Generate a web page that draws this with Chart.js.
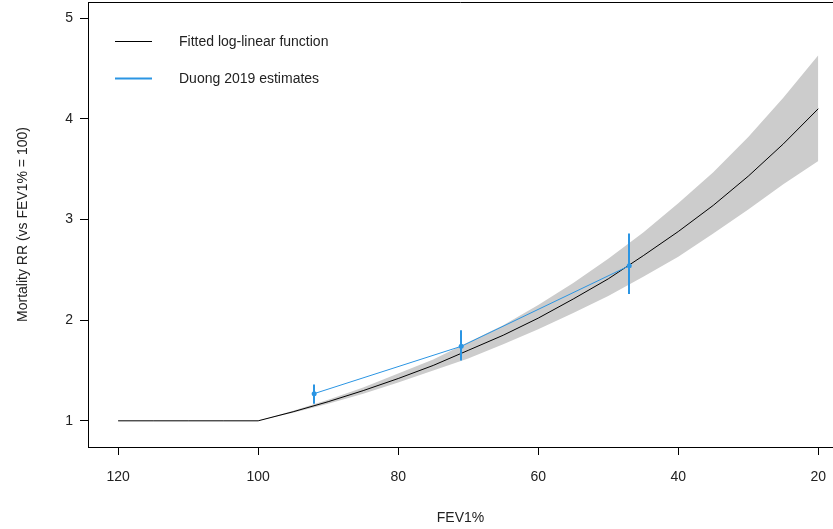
<!DOCTYPE html>
<html>
<head>
<meta charset="utf-8">
<script src="https://cdn.jsdelivr.net/npm/chart.js@4/dist/chart.umd.min.js"></script>
<style>
html,body{margin:0;padding:0;background:#fff;overflow:hidden;}
#wrap{width:833px;height:529px;}
</style>
</head>
<body>
<div id="wrap"><canvas id="c" width="833" height="529"></canvas></div>
<script>
// ---- data ----
const fitX   = [120, 115, 110, 105, 100, 95, 90, 85, 80, 75, 70, 65, 60, 55, 50, 45, 40, 35, 30, 25, 20];
const fitted = [1.00, 1.00, 1.00, 1.00, 1.00, 1.09, 1.19, 1.30, 1.42, 1.55, 1.70, 1.85, 2.02, 2.21, 2.41, 2.64, 2.88, 3.14, 3.43, 3.75, 4.10];
const bandX  = [100, 95, 90, 85, 80, 75, 70, 65, 60, 55, 50, 45, 40, 35, 30, 25, 20];
const upper  = [1.00, 1.10, 1.21, 1.33, 1.47, 1.61, 1.78, 1.95, 2.15, 2.37, 2.61, 2.87, 3.16, 3.47, 3.82, 4.21, 4.63];
const lower  = [1.00, 1.08, 1.17, 1.27, 1.38, 1.50, 1.62, 1.76, 1.91, 2.07, 2.24, 2.43, 2.63, 2.86, 3.10, 3.35, 3.58];
const duongX  = [92, 71, 47];
const duongRR = [1.27, 1.74, 2.54];
const duongLo = [1.17, 1.60, 2.26];
const duongHi = [1.36, 1.90, 2.86];
const xTicks = [120, 100, 80, 60, 40, 20];
const yTicks = [1, 2, 3, 4, 5];
const legendLabels = ['Fitted log-linear function', 'Duong 2019 estimates'];

const BLUE = '#2b95e3';
const FONT = 'Liberation Sans, Arial, Helvetica, sans-serif';
const pts = (xs, ys) => xs.map((x, i) => ({x: x, y: ys[i]}));

const errorBars = {
  id: 'errorBars',
  afterDatasetsDraw(chart) {
    const xs = chart.scales.x, ys = chart.scales.y, ctx = chart.ctx;
    ctx.save();
    ctx.strokeStyle = BLUE;
    ctx.lineWidth = 2;
    duongX.forEach((x, i) => {
      const px = Math.round(xs.getPixelForValue(x));
      ctx.beginPath();
      ctx.moveTo(px, ys.getPixelForValue(duongLo[i]));
      ctx.lineTo(px, ys.getPixelForValue(duongHi[i]));
      ctx.stroke();
    });
    ctx.restore();
  }
};

const frameAndLegend = {
  id: 'frameAndLegend',
  afterDraw(chart) {
    const ctx = chart.ctx, a = chart.chartArea;
    ctx.save();
    ctx.strokeStyle = '#000';
    ctx.lineWidth = 1;
    ctx.beginPath();
    ctx.moveTo(a.left, a.top + 0.5);
    ctx.lineTo(a.right, a.top + 0.5);
    ctx.stroke();
    // legend
    const rows = [{y: 41, c: '#000'}, {y: 78, c: BLUE}];
    ctx.font = '14px ' + FONT;
    ctx.textBaseline = 'middle';
    ctx.textAlign = 'left';
    rows.forEach((r, i) => {
      ctx.strokeStyle = r.c;
      ctx.lineWidth = i === 0 ? 1 : 2;
      ctx.beginPath();
      ctx.moveTo(115, r.y + 0.5);
      ctx.lineTo(152, r.y + 0.5);
      ctx.stroke();
      ctx.fillStyle = '#222';
      ctx.fillText(legendLabels[i], 179, r.y + 1);
    });
    ctx.restore();
  }
};

new Chart(document.getElementById('c'), {
  type: 'line',
  data: {
    datasets: [
      {
        label: legendLabels[1],
        data: pts(duongX, duongRR),
        borderColor: BLUE, backgroundColor: BLUE,
        borderWidth: 1, pointRadius: 2.5, pointBorderWidth: 0, pointHoverRadius: 2.5,
        fill: false, tension: 0
      },
      {
        label: legendLabels[0],
        data: pts(fitX, fitted),
        borderColor: '#000', borderWidth: 1, pointRadius: 0,
        fill: false, tension: 0
      },
      {
        label: 'upper',
        data: pts(bandX, upper),
        borderColor: 'rgba(0,0,0,0)', borderWidth: 0, pointRadius: 0,
        backgroundColor: '#cccccc',
        fill: '+1', tension: 0
      },
      {
        label: 'lower',
        data: pts(bandX, lower),
        borderColor: 'rgba(0,0,0,0)', borderWidth: 0, pointRadius: 0,
        fill: false, tension: 0
      }
    ]
  },
  options: {
    responsive: false,
    animation: false,
    devicePixelRatio: 1,
    layout: {autoPadding: false, padding: {top: 2, right: 0, left: 0, bottom: 0}},
    plugins: {legend: {display: false}, tooltip: {enabled: false}},
    scales: {
      x: {
        type: 'linear', reverse: true, min: 17.9, max: 124.3,
        grid: {drawOnChartArea: false, drawTicks: true, tickLength: 8, color: '#000'},
        border: {display: true, color: '#000', width: 1},
        ticks: {color: '#222', font: {family: FONT, size: 14}, padding: 14, maxRotation: 0, autoSkip: false},
        title: {display: true, text: 'FEV1%', color: '#222', font: {family: FONT, size: 14}, padding: {top: 0, bottom: 2}},
        afterBuildTicks: s => { s.ticks = xTicks.map(v => ({value: v})); },
        afterFit: s => { s.height = 82; s.paddingLeft = 0; s.paddingRight = 0; }
      },
      y: {
        type: 'linear', min: 0.74, max: 5.16,
        grid: {drawOnChartArea: false, drawTicks: true, tickLength: 8, color: '#000'},
        border: {display: true, color: '#000', width: 1},
        ticks: {color: '#222', font: {family: FONT, size: 14}, padding: 7},
        title: {display: true, text: 'Mortality RR (vs FEV1% = 100)', color: '#222', font: {family: FONT, size: 14}, padding: {top: 15, bottom: 0}},
        afterBuildTicks: s => { s.ticks = yTicks.map(v => ({value: v})); },
        afterFit: s => { s.width = 88; s.paddingTop = 0; s.paddingBottom = 0; }
      }
    }
  },
  plugins: [errorBars, frameAndLegend]
});
</script>
</body>
</html>
